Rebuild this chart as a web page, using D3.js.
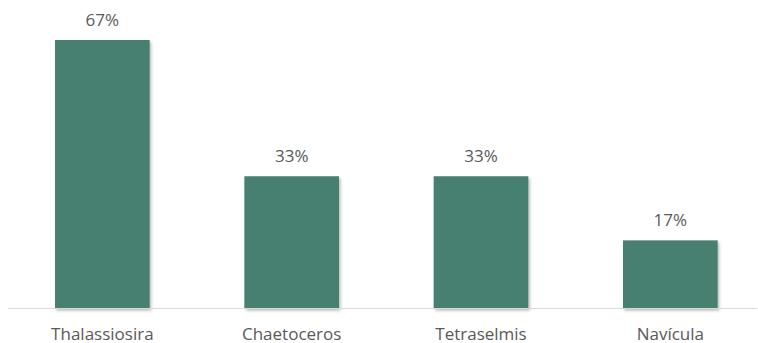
<!DOCTYPE html>
<html>
<head>
<meta charset="utf-8">
<script src="https://cdn.jsdelivr.net/npm/d3@7"></script>
<style>
  html, body { margin: 0; padding: 0; background: #ffffff; }
  svg { display: block; }
</style>
</head>
<body>
<svg id="chart" width="758" height="343"></svg>
<script>
// Share of samples in which each genus was present
const categories = ["Thalassiosira", "Chaetoceros", "Tetraselmis", "Navícula"];
const values = [67, 33, 33, 17];
const valueLabels = ["67%", "33%", "33%", "17%"];

const svg = d3.select("#chart");
const W = 758, H = 343;
const baseline = 308.5;
const textColor = "#595959";
const barColor = "#46806f";
const font = "'Open Sans', sans-serif";

// soft drop shadow beneath each bar
const defs = svg.append("defs");
const f = defs.append("filter").attr("id", "barShadow")
  .attr("x", "-10%").attr("y", "-10%").attr("width", "130%").attr("height", "130%");
f.append("feDropShadow").attr("dx", 1.5).attr("dy", 2).attr("stdDeviation", 1.6)
  .attr("flood-color", "#000").attr("flood-opacity", 0.28);

const x = d3.scaleBand()
  .domain(categories)
  .range([7.7, 765])
  .paddingInner(0.5)
  .paddingOuter(0.25);

const y = d3.scaleLinear()
  .domain([0, 67])
  .range([baseline, 40]);

// bars
svg.append("g").selectAll("rect")
  .data(categories)
  .join("rect")
  .attr("x", d => x(d))
  .attr("width", x.bandwidth())
  .attr("y", (d, i) => y(values[i]))
  .attr("height", (d, i) => y(0) - y(values[i]))
  .attr("fill", barColor)
  .attr("filter", "url(#barShadow)");

// category axis line
svg.append("line")
  .attr("x1", 8).attr("x2", 757)
  .attr("y1", baseline).attr("y2", baseline)
  .attr("stroke", "#d9d9d9").attr("stroke-width", 1);

// category labels
svg.append("g").selectAll("text")
  .data(categories)
  .join("text")
  .attr("x", d => x(d) + x.bandwidth() / 2)
  .attr("y", 339.5)
  .attr("text-anchor", "middle")
  .attr("font-family", font)
  .attr("font-size", 17)
  .attr("fill", textColor)
  .text(d => d);

// value labels above bars
svg.append("g").selectAll("text")
  .data(categories)
  .join("text")
  .attr("x", d => x(d) + x.bandwidth() / 2)
  .attr("y", (d, i) => y(values[i]) - 14)
  .attr("text-anchor", "middle")
  .attr("font-family", font)
  .attr("font-size", 17)
  .attr("fill", textColor)
  .text((d, i) => valueLabels[i]);
</script>
</body>
</html>
